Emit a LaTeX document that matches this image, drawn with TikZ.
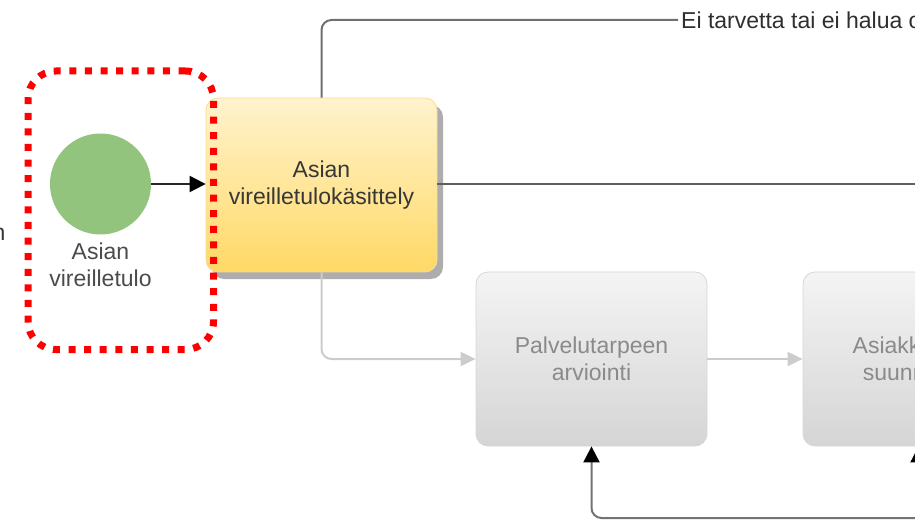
\documentclass[tikz,border=0pt]{standalone}
\usepackage{fontspec}
\setmainfont{Liberation Sans}
\usetikzlibrary{arrows.meta,shadows}

\definecolor{startgreen}{RGB}{147,196,125}
\definecolor{taskyellowtop}{RGB}{255,243,206}
\definecolor{taskyellowbot}{RGB}{255,217,102}
\definecolor{taskyellowedge}{RGB}{246,222,150}
\definecolor{idletop}{RGB}{244,244,244}
\definecolor{idlebot}{RGB}{213,213,213}
\definecolor{idleedge}{RGB}{214,214,214}
\definecolor{idletext}{RGB}{138,138,138}
\definecolor{darktext}{RGB}{55,55,55}
\definecolor{flowdark}{RGB}{95,95,95}
\definecolor{flowlight}{RGB}{204,204,204}
\definecolor{flowreturn}{RGB}{115,115,115}

\tikzset{
  bigtext/.style={font=\fontsize{23}{27}\selectfont, align=center},
  taskbox/.style={bigtext, rounded corners=12pt, minimum width=231pt,
    minimum height=174pt, inner sep=0pt},
  activetask/.style={taskbox, top color=taskyellowtop, bottom color=taskyellowbot,
    draw=taskyellowedge, line width=0.8pt, text=darktext,
    drop shadow={shadow xshift=6pt, shadow yshift=-7pt, fill=black!32, opacity=1}},
  idletask/.style={taskbox, top color=idletop, bottom color=idlebot,
    draw=idleedge, line width=0.8pt, text=idletext},
  darktip/.style={-{Triangle[length=16pt,width=16pt,color=black]}},
  lighttip/.style={-{Triangle[length=15pt,width=14pt]}},
  mainflow/.style={draw=flowdark, line width=2.4pt},
  sideflow/.style={draw=flowdark!90, line width=2pt, rounded corners=10pt},
  inactiveflow/.style={draw=flowlight, line width=2pt, rounded corners=10pt, lighttip},
  returnflow/.style={draw=flowreturn, line width=2pt, rounded corners=10pt},
  focusframe/.style={draw=red, line width=7pt, dash pattern=on 7pt off 8.6pt,
    rounded corners=28pt, inner sep=0pt}
}

\begin{document}
\begin{tikzpicture}[x=1pt, y=-1pt]
  \useasboundingbox (0,0) rectangle (915,521);
  \clip (0,0) rectangle (915,521);

  % start event and its label
  \node[circle, fill=startgreen, minimum size=101pt, inner sep=0pt] (start) at (100.5,184) {};
  \node[bigtext, text=darktext!90, anchor=north, inner sep=0pt] (startlabel) at (100.5,243) {Asian\\vireilletulo};

  % tail of a label further left
  \node[bigtext, text=darktext, anchor=base east, inner sep=0pt] (leftlabel) at (5.5,241) {n};

  % process steps
  \node[activetask] (intake) at (321.5,185) {Asian\\vireilletulokäsittely};
  \node[idletask] (assess) at (591.5,359) {Palvelutarpeen\\arviointi};
  \node[idletask] (plan) at (918.5,359) {Asiakkuuden\\suunnittelu};

  % outcome label on the upper branch
  \node[bigtext, text=darktext!85!black, anchor=west, inner sep=3pt] (noneed) at (678,20) {Ei tarvetta tai ei halua ottaa};

  % connector end points beyond the right and bottom edges
  \coordinate (mainout) at (935,184);
  \coordinate (loopin) at (935,518);
  \coordinate (planin) at (918.5,545);

  % connectors
  \draw[draw=black!85, line width=2pt, darktip] (start.east) -- (start.east -| intake.west);
  \draw[sideflow] (intake.north) |- (noneed.west);
  \draw[mainflow] (intake.east |- mainout) -- (mainout);
  \draw[inactiveflow] (intake.south) |- (assess.west);
  \draw[inactiveflow, rounded corners=0pt] (assess.east) -- (plan.west);
  \draw[returnflow, darktip] (loopin) -| (assess.south);
  \draw[returnflow, darktip] (planin) -- (plan.south);

  % highlight frame round the start event
  \node[focusframe, minimum width=185.5pt, minimum height=278.5pt] (focus) at (120.75,210.25) {};
\end{tikzpicture}
\end{document}
